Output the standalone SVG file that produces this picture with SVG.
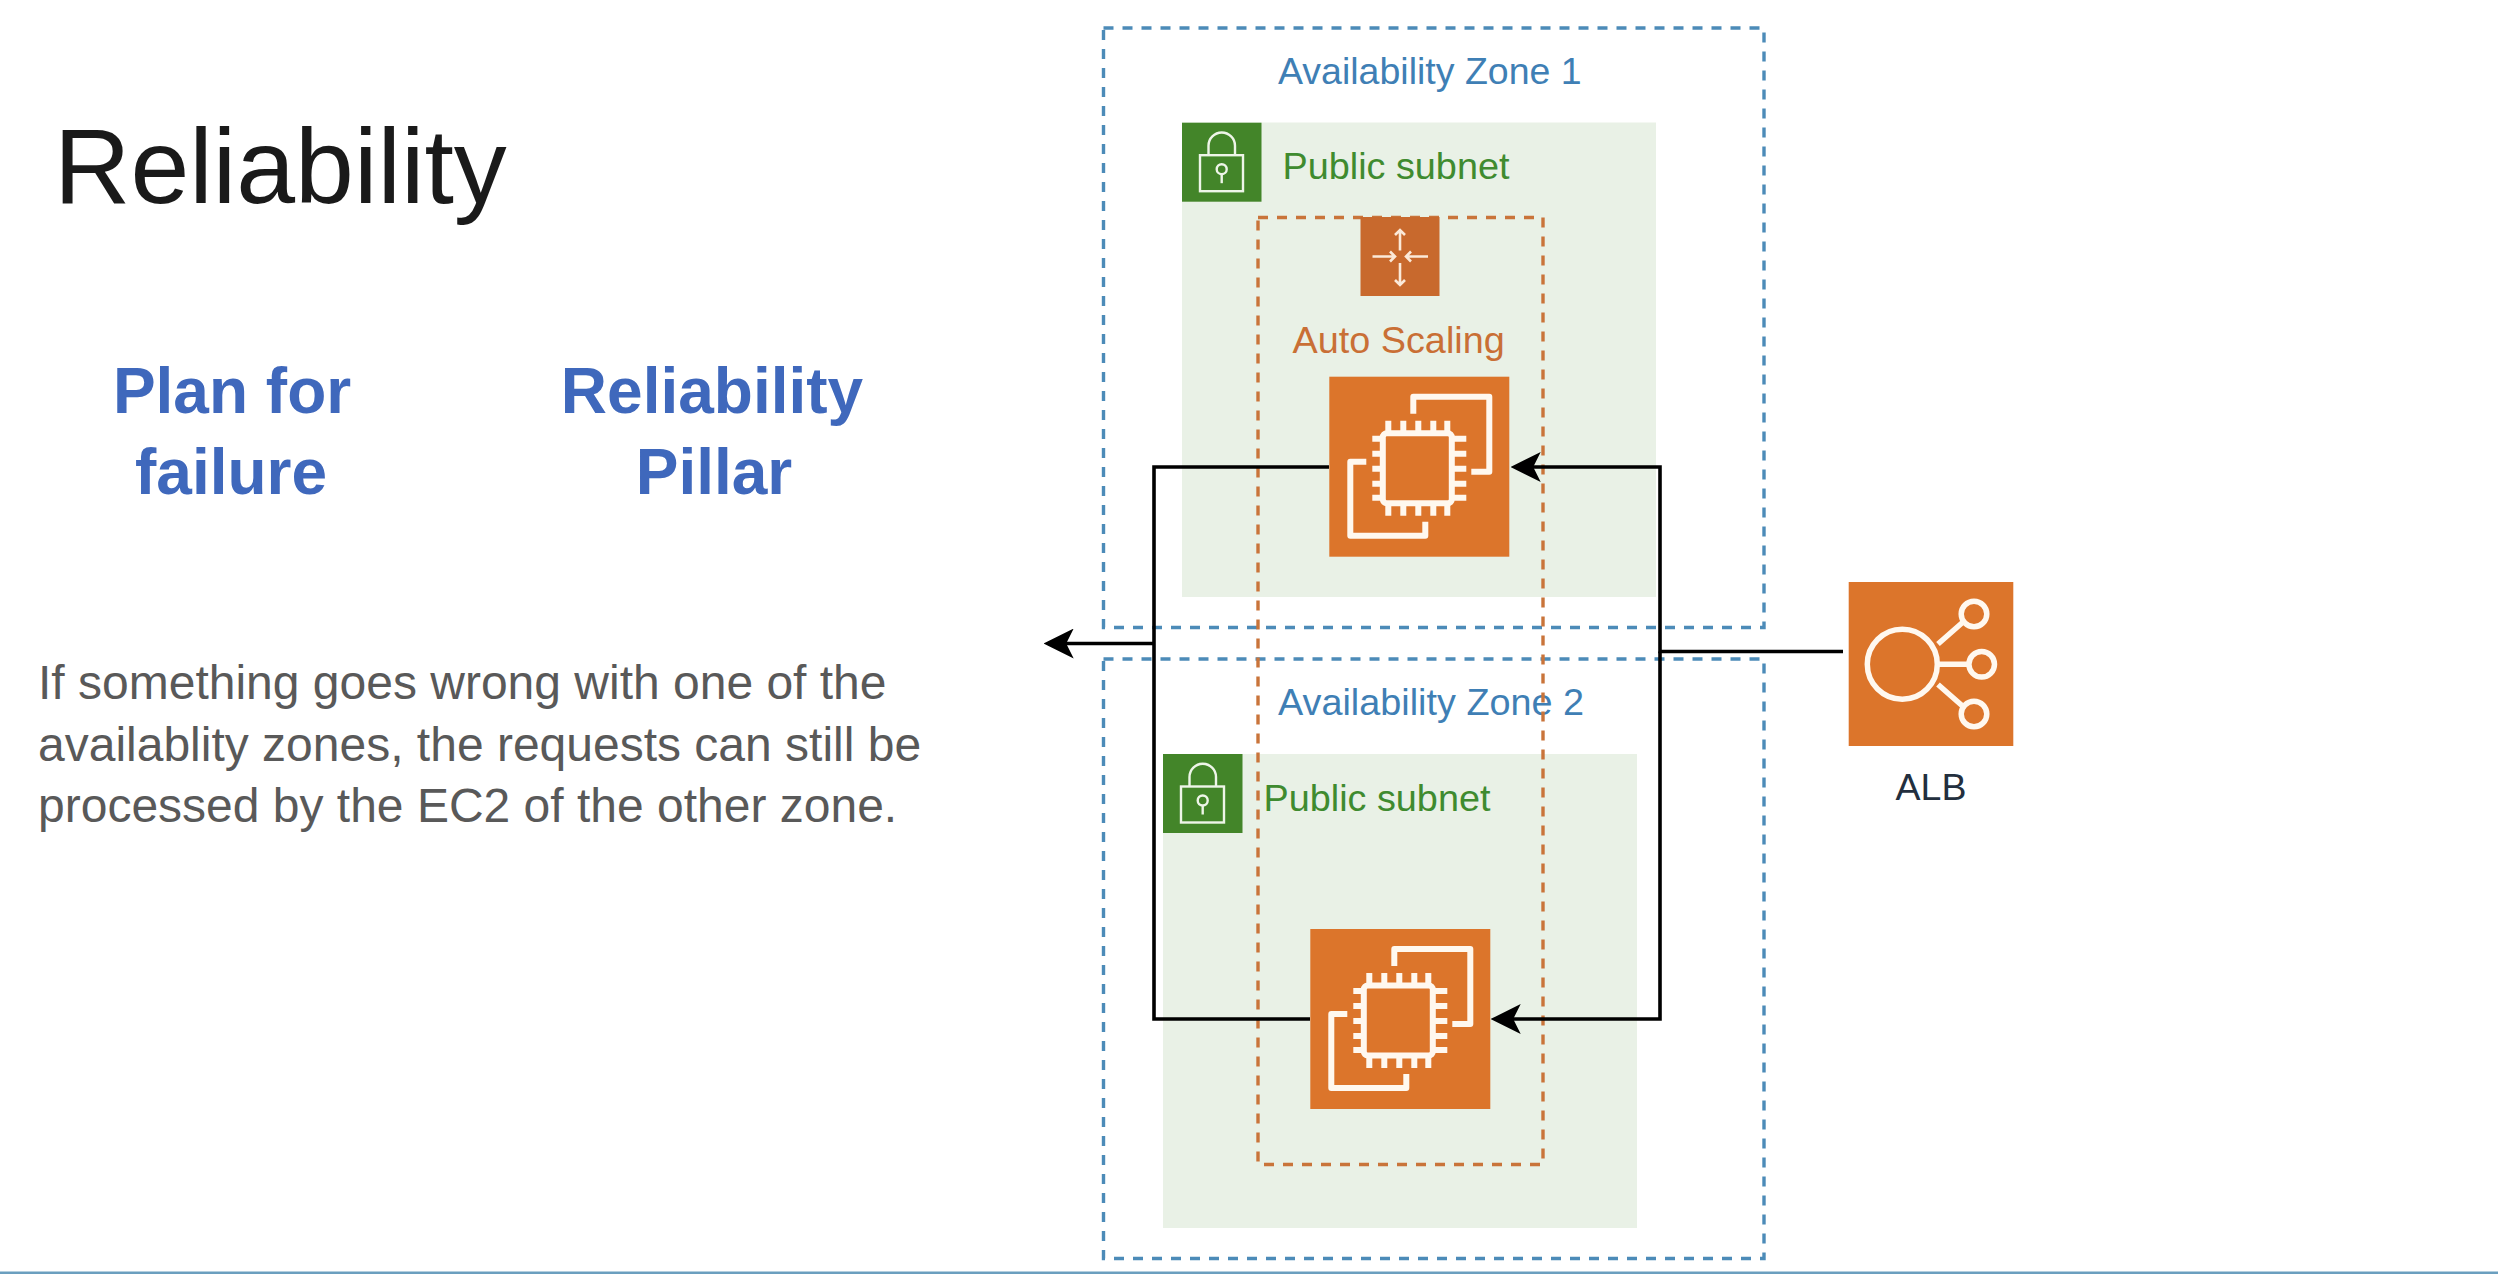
<svg xmlns="http://www.w3.org/2000/svg" xmlns:xlink="http://www.w3.org/1999/xlink" width="2498" height="1274" viewBox="0 0 2498 1274">
<style>
text{font-family:"Liberation Sans",Arial,sans-serif}
.zone{fill:none;stroke:#4C8BB8;stroke-width:3.400;stroke-dasharray:10 9}
.zonet{fill:#3F7FB5;font-size:37.500px}
.subnet{fill:#E9F1E6}
.green{fill:#438529}
.subt{fill:#3F8B2F;font-size:37.800px}
.asg{fill:none;stroke:#C9743A;stroke-width:3.400;stroke-dasharray:10 9}
.orange{fill:#DC752B}
.ic{fill:none;stroke:#FFF8EF;stroke-width:6;stroke-linejoin:round}
.ict{fill:none;stroke:#EEF5E8;stroke-width:2.400}
.icr{fill:none;stroke:#FBE9D8;stroke-width:2.600}
.head{fill:#3F68BC;font-size:64px;font-weight:700;text-anchor:middle}
.para{fill:#595959;font-size:48px}
.conn{fill:none;stroke:#000;stroke-width:3.600;marker-end:url(#stealth)}
.plain{fill:none;stroke:#000;stroke-width:3.600}
</style>
<defs>
<marker id="stealth" markerUnits="userSpaceOnUse" markerWidth="30" markerHeight="30" viewBox="0 0 28 28" refX="24" refY="14" orient="auto">
<path d="M28,14 L0,0 L7,14 L0,28 Z" fill="#000"/>
</marker>
<g id="ec2-icon">
<rect class="orange" width="180" height="180"/>
<path class="ic" d="M84,37 V20 H160 V95 H142 M37,85 H21 V159 H96 V145"/>
<rect class="ic" x="53.500" y="56.500" width="69" height="70" rx="4"/>
<path class="ic" d="M59,44 V57 M74,44 V57 M89,44 V57 M104,44 V57 M118,44 V57 M59,126 V139 M74,126 V139 M89,126 V139 M104,126 V139 M118,126 V139 M43,62 H54 M43,77 H54 M43,92 H54 M43,107 H54 M43,121 H54 M122,62 H137 M122,77 H137 M122,92 H137 M122,107 H137 M122,121 H137"/>
</g>
<g id="lock-icon">
<rect class="green" width="79.500" height="79"/>
<rect class="ict" x="18" y="32.500" width="43" height="36"/>
<path class="ict" d="M26.500,32.500 V23 A13,13 0 0 1 53,23 V32.500"/>
<circle class="ict" cx="39.700" cy="46.500" r="5"/>
<path class="ict" d="M39.700,51.500 V60.500"/>
</g>
</defs>
<rect width="2498" height="1274" fill="#FFFFFF"/>
<rect y="1271.500" width="2498" height="2.500" fill="#6B9FBF"/>

<g id="title"><text x="54" y="202.500" font-size="105.800" fill="#1A1A1A">Reliability</text></g>
<g id="plan-for-failure"><text class="head" x="232" y="413">Plan for</text><text class="head" x="231" y="493.500">failure</text></g>
<g id="reliability-pillar"><text class="head" x="712" y="413">Reliability</text><text class="head" x="714" y="493.500">Pillar</text></g>
<g id="description">
<text class="para" x="38" y="699">If something goes wrong with one of the</text>
<text class="para" x="38" y="761">availablity zones, the requests can still be</text>
<text class="para" x="38" y="822">processed by the EC2 of the other zone.</text>
</g>

<g id="zone-1">
<rect class="zone" x="1103.500" y="28" width="660.500" height="599.500"/>
<text class="zonet" x="1278" y="84">Availability Zone 1</text>
</g>
<g id="subnet-1">
<rect class="subnet" x="1182" y="122.500" width="474" height="474.500"/>
<use xlink:href="#lock-icon" href="#lock-icon" x="1182" y="122.700"/>
<text class="subt" x="1282.500" y="179">Public subnet</text>
</g>
<g id="zone-2">
<rect class="zone" x="1103.500" y="659" width="660.500" height="599.500"/>
<text class="zonet" x="1278" y="715" style="font-size:37.800px">Availability Zone 2</text>
</g>
<g id="subnet-2">
<rect class="subnet" x="1163" y="754" width="474" height="474"/>
<use xlink:href="#lock-icon" href="#lock-icon" x="1163" y="754"/>
<text class="subt" x="1263.500" y="811">Public subnet</text>
</g>
<g id="auto-scaling">
<rect class="asg" x="1258" y="217.500" width="285" height="947"/>
<rect x="1360.500" y="217" width="79" height="79" fill="#C8692D"/>
<path class="icr" d="M1400,230 V250.500 M1395,235 L1400,230 L1405,235 M1400,263 V285 M1395,280 L1400,285 L1405,280 M1372.500,256.500 H1395 M1390,251.500 L1395,256.500 L1390,261.500 M1428,256.500 H1406 M1411,251.500 L1406,256.500 L1411,261.500"/>
<text x="1292.500" y="353" font-size="37.800" fill="#C96F35">Auto Scaling</text>
</g>
<g id="ec2-1"><use xlink:href="#ec2-icon" href="#ec2-icon" x="1329.300" y="376.700"/></g>
<g id="ec2-2"><use xlink:href="#ec2-icon" href="#ec2-icon" x="1310.300" y="929"/></g>
<g id="alb">
<rect class="orange" x="1848.700" y="582" width="164.600" height="164"/>
<g fill="none" stroke="#FFF8EF" stroke-width="5.500">
<circle cx="1902.300" cy="664.300" r="35"/>
<circle cx="1974" cy="614" r="12.800"/>
<circle cx="1981.700" cy="664.300" r="12.800"/>
<circle cx="1974" cy="714" r="12.800"/>
<path d="M1938,644 L1962.500,622.500 M1937,664.300 H1969 M1938,684.500 L1962.500,706"/>
</g>
<text x="1931" y="800" font-size="37.500" fill="#232F3E" text-anchor="middle">ALB</text>
</g>
<g id="connectors">
<path class="conn" d="M1843,651.500 H1660 V467 H1515"/>
<path class="conn" d="M1660,651.500 V1019 H1495"/>
<path class="plain" d="M1329,467 H1154 V1019 H1310"/>
<path class="conn" d="M1154,643.500 H1048"/>
</g>
</svg>
